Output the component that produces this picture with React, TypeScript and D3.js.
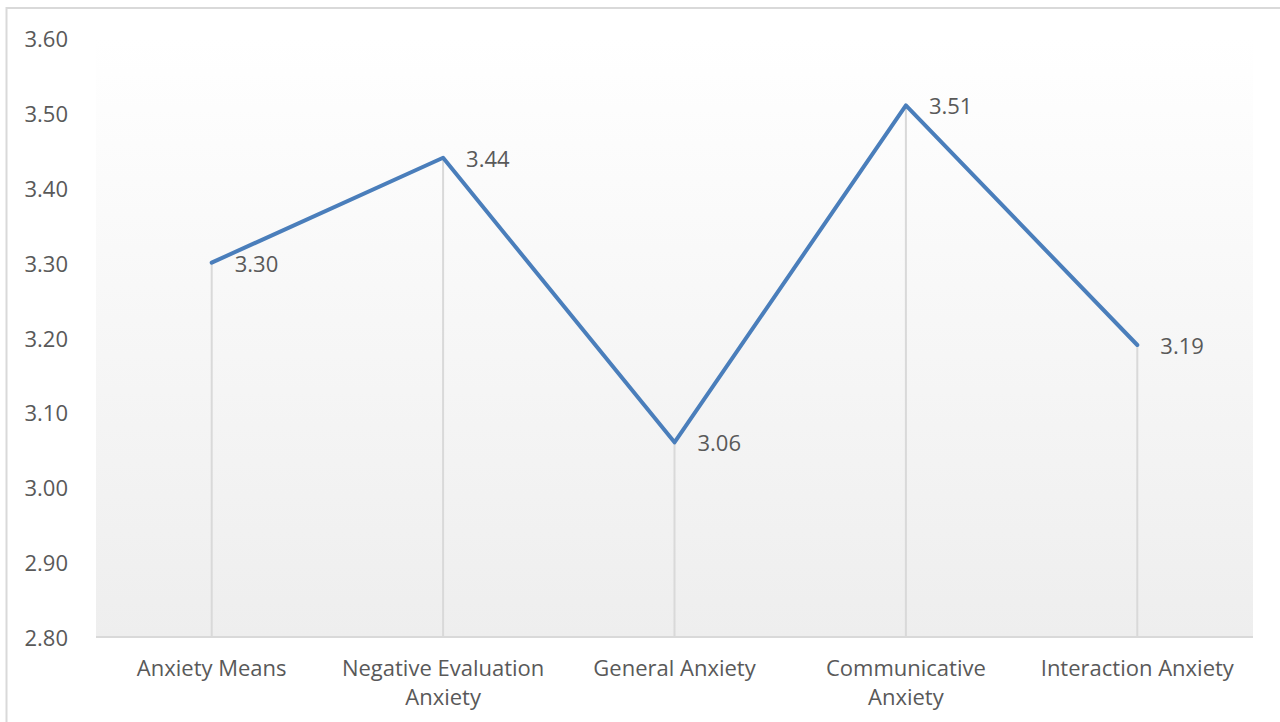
import React from "react";
import * as d3 from "d3";

const categories: string[][] = [
  ["Anxiety Means"],
  ["Negative Evaluation", "Anxiety"],
  ["General Anxiety"],
  ["Communicative", "Anxiety"],
  ["Interaction Anxiety"],
];
const values: number[] = [3.3, 3.44, 3.06, 3.51, 3.19];
const yTicks: number[] = [2.8, 2.9, 3.0, 3.1, 3.2, 3.3, 3.4, 3.5, 3.6];

const W = 1280;
const H = 722;
const plot = { left: 96, right: 1253, top: 38, bottom: 637 };
const FONT = "'Open Sans', sans-serif";
const TEXT = "#595959";
const FS = 22;

export default function App() {
  const x = d3
    .scaleBand<number>()
    .domain(values.map((_, i) => i))
    .range([plot.left, plot.right]);
  const y = d3.scaleLinear().domain([2.8, 3.6]).range([plot.bottom, plot.top]);
  const cx = (i: number) => (x(i) ?? 0) + x.bandwidth() / 2;
  const line = d3
    .line<number>()
    .x((_, i) => cx(i))
    .y((d) => y(d));

  return (
    <svg
      width={W}
      height={H}
      style={{ position: "absolute", left: 0, top: 0, display: "block" }}
    >
      <defs>
        <linearGradient id="bg" x1="0" y1="0" x2="0" y2="1">
          <stop offset="0" stopColor="#ffffff" />
          <stop offset="1" stopColor="#eeeeee" />
        </linearGradient>
      </defs>
      <rect x={0} y={0} width={W} height={H} fill="#ffffff" />
      <rect
        x={6.5}
        y={8}
        width={W + 20}
        height={H + 20}
        fill="none"
        stroke="#d9d9d9"
        strokeWidth={2}
      />
      <rect
        x={plot.left}
        y={plot.top}
        width={plot.right - plot.left}
        height={plot.bottom - plot.top}
        fill="url(#bg)"
      />
      {yTicks.map((t) => (
        <text
          key={t}
          x={68}
          y={y(t)}
          textAnchor="end"
          dominantBaseline="central"
          fontFamily={FONT}
          fontSize={FS}
          fill={TEXT}
        >
          {t.toFixed(2)}
        </text>
      ))}
      {values.map((v, i) => (
        <line
          key={"drop" + i}
          x1={cx(i)}
          x2={cx(i)}
          y1={y(v)}
          y2={plot.bottom}
          stroke="#d9d9d9"
          strokeWidth={2}
        />
      ))}
      <line
        x1={plot.left}
        x2={plot.right}
        y1={plot.bottom}
        y2={plot.bottom}
        stroke="#d9d9d9"
        strokeWidth={2}
      />
      {categories.map((lines, i) => (
        <text
          key={"cat" + i}
          x={cx(i)}
          y={676}
          textAnchor="middle"
          fontFamily={FONT}
          fontSize={FS}
          fill={TEXT}
        >
          {lines.map((l, j) => (
            <tspan key={j} x={cx(i)} dy={j === 0 ? 0 : 29}>
              {l}
            </tspan>
          ))}
        </text>
      ))}
      <path
        d={line(values) ?? ""}
        fill="none"
        stroke="#4a7ebb"
        strokeWidth={4}
        strokeLinejoin="round"
        strokeLinecap="round"
      />
      {values.map((v, i) => (
        <text
          key={"lab" + i}
          x={cx(i) + 23}
          y={y(v)}
          dominantBaseline="central"
          fontFamily={FONT}
          fontSize={FS}
          fill={TEXT}
        >
          {v.toFixed(2)}
        </text>
      ))}
    </svg>
  );
}
